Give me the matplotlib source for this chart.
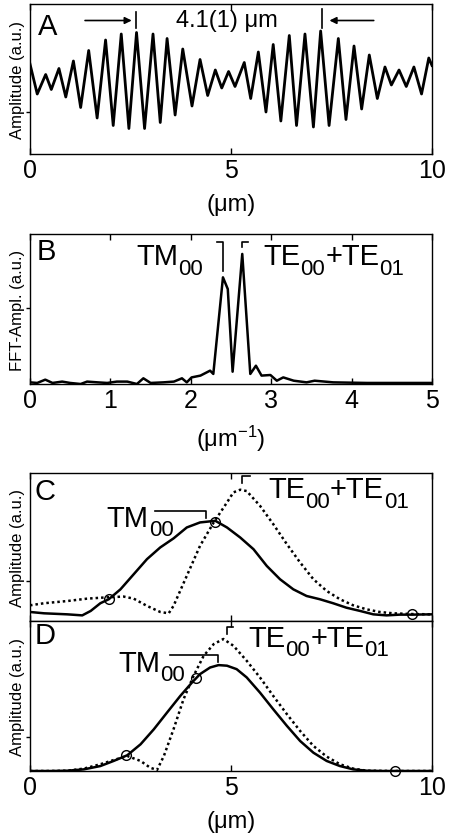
import matplotlib
matplotlib.use("Agg")
import matplotlib.pyplot as plt

plt.rcParams['font.family'] = ['Liberation Sans', 'DejaVu Sans']
plt.rcParams['mathtext.fontset'] = 'custom'
plt.rcParams['mathtext.rm'] = 'Liberation Sans'
plt.rcParams['mathtext.it'] = 'Liberation Sans:italic'
plt.rcParams['mathtext.default'] = 'regular'

# ---------------- Panel A: interference signal ----------------
a_x = [0.0, 0.18, 0.39, 0.53, 0.72, 0.89, 1.08, 1.26, 1.46, 1.67, 1.88, 2.07, 2.27, 2.46,
       2.65, 2.85, 3.06, 3.24, 3.41, 3.61, 3.80, 4.03, 4.23, 4.42, 4.61, 4.77, 4.94, 5.10,
       5.33, 5.49, 5.68, 5.87, 6.05, 6.24, 6.45, 6.63, 6.84, 7.05, 7.23, 7.44, 7.67, 7.86,
       8.06, 8.25, 8.44, 8.64, 8.83, 8.99, 9.18, 9.36, 9.55, 9.74, 9.92, 10.0]
a_y = [0.60, 0.40, 0.53, 0.43, 0.57, 0.38, 0.62, 0.31, 0.69, 0.24, 0.76, 0.19, 0.80, 0.17,
       0.81, 0.17, 0.80, 0.21, 0.77, 0.26, 0.70, 0.32, 0.63, 0.39, 0.56, 0.44, 0.55, 0.45,
       0.61, 0.37, 0.68, 0.28, 0.73, 0.22, 0.79, 0.19, 0.80, 0.18, 0.82, 0.19, 0.77, 0.23,
       0.72, 0.30, 0.66, 0.37, 0.58, 0.46, 0.56, 0.45, 0.58, 0.40, 0.64, 0.59]

# ---------------- Panel B: FFT amplitude ----------------
b_x = [0.0, 0.09, 0.19, 0.28, 0.40, 0.50, 0.63, 0.71, 0.84, 0.96, 1.08, 1.21, 1.33, 1.41,
       1.50, 1.66, 1.79, 1.89, 1.95, 2.01, 2.12, 2.24, 2.28, 2.40, 2.46, 2.52, 2.64, 2.74,
       2.81, 2.88, 2.99, 3.07, 3.15, 3.28, 3.44, 3.54, 3.77, 4.19, 4.60, 5.0]
b_y = [0.011, 0.007, 0.029, 0.007, 0.016, 0.007, 0.0, 0.016, 0.011, 0.007, 0.016, 0.016,
       0.0, 0.038, 0.007, 0.011, 0.016, 0.038, 0.011, 0.044, 0.056, 0.089, 0.067, 0.711,
       0.633, 0.082, 0.867, 0.067, 0.122, 0.056, 0.060, 0.022, 0.044, 0.022, 0.011, 0.022,
       0.011, 0.007, 0.007, 0.007]

# ---------------- Panel C: mode profiles ----------------
c_tm_x = [0.0, 0.35, 0.93, 1.30, 1.51, 1.75, 1.96, 2.25, 2.58, 2.91, 3.24, 3.57, 3.90, 4.23,
          4.61, 4.90, 5.23, 5.56, 5.89, 6.22, 6.55, 6.88, 7.21, 7.54, 7.87, 8.21, 8.54, 8.87,
          9.20, 9.50, 10.0]
c_tm_y = [0.061, 0.052, 0.045, 0.038, 0.068, 0.120, 0.147, 0.214, 0.316, 0.418, 0.497, 0.558,
          0.632, 0.666, 0.677, 0.632, 0.564, 0.485, 0.372, 0.282, 0.214, 0.169, 0.147, 0.120,
          0.090, 0.068, 0.045, 0.038, 0.043, 0.043, 0.045]
c_te_x = [0.0, 0.35, 0.93, 1.42, 1.92, 2.33, 2.58, 2.91, 3.24, 3.45, 3.57, 3.90, 4.23, 4.57,
          4.90, 5.06, 5.23, 5.39, 5.72, 6.05, 6.39, 6.72, 7.05, 7.38, 7.71, 8.04, 8.37, 8.70,
          9.03, 9.50, 10.0]
c_te_y = [0.106, 0.120, 0.135, 0.151, 0.160, 0.165, 0.151, 0.102, 0.061, 0.052, 0.102, 0.305,
          0.508, 0.666, 0.801, 0.869, 0.887, 0.878, 0.779, 0.655, 0.519, 0.395, 0.282, 0.203,
          0.147, 0.106, 0.079, 0.061, 0.052, 0.047, 0.045]
c_pts_x = [1.96, 4.61, 9.50]
c_pts_y = [0.147, 0.672, 0.047]

# ---------------- Panel D: fitted profiles ----------------
d_tm_x = [0.0, 0.51, 0.93, 1.34, 1.75, 2.08, 2.42, 2.75, 3.08, 3.41, 3.74, 4.03, 4.23, 4.48,
          4.69, 4.90, 5.14, 5.39, 5.72, 6.05, 6.39, 6.72, 7.05, 7.38, 7.71, 8.04, 8.37, 8.78,
          9.07, 10.0]
d_tm_y = [0.0, 0.0, 0.002, 0.011, 0.033, 0.067, 0.105, 0.178, 0.278, 0.390, 0.501, 0.590,
          0.646, 0.690, 0.706, 0.702, 0.679, 0.624, 0.523, 0.412, 0.301, 0.200, 0.122, 0.067,
          0.033, 0.011, 0.002, 0.0, 0.0, 0.0]
d_te_x = [0.0, 0.51, 0.93, 1.34, 1.75, 2.08, 2.42, 2.75, 2.99, 3.16, 3.33, 3.57, 3.82, 4.07,
          4.32, 4.57, 4.81, 5.06, 5.39, 5.72, 6.05, 6.39, 6.72, 7.05, 7.38, 7.71, 8.04, 8.37,
          9.07, 10.0]
d_te_y = [0.0, 0.0, 0.002, 0.016, 0.045, 0.073, 0.100, 0.067, 0.022, 0.007, 0.100, 0.278,
          0.479, 0.635, 0.768, 0.846, 0.880, 0.835, 0.735, 0.624, 0.501, 0.379, 0.267, 0.167,
          0.096, 0.045, 0.016, 0.002, 0.0, 0.0]
d_pts_x = [2.40, 4.14, 9.07]
d_pts_y = [0.105, 0.617, 0.0]

# tick labels
x_ticks_10 = [0, 5, 10]
x_ticks_5 = [0, 1, 2, 3, 4, 5]

W, H = 450, 837
fig = plt.figure(figsize=(W / 100, H / 100), dpi=100)


def axes_px(x0, y0, x1, y1):
    return fig.add_axes([x0 / W, 1 - y1 / H, (x1 - x0) / W, (y1 - y0) / H])


LW = 1.8
TICKFS = 18
LABFS = 17
PANFS = 21
MODEFS = 21
SUBFS = 16
DOT = (0, (1, 1.2))


def style(ax, xlim, xticks, ytick, ylabel, labels=True):
    ax.set_xlim(*xlim)
    ax.set_ylim(0, 1)
    ax.set_xticks(xticks)
    if not labels:
        ax.set_xticklabels([])
    ax.set_yticks([ytick])
    ax.set_yticklabels([])
    ax.tick_params(axis='x', direction='in', top=True, length=4, width=1,
                   labelsize=TICKFS, pad=3)
    ax.tick_params(axis='y', direction='out', length=3, width=1)
    for s in ax.spines.values():
        s.set_linewidth(1.0)
    ax.set_ylabel(ylabel, fontsize=12)
    ax.yaxis.set_label_coords(-0.013, 0.5)


def bracket(ax, pts):
    xs = [p[0] for p in pts]
    ys = [p[1] for p in pts]
    ax.plot(xs, ys, color='black', lw=1.2, transform=ax.transAxes, clip_on=False)


def mode_label(ax, x, y, parts):
    """parts: list of (text, is_subscript); drawn left to right on a common baseline."""
    prev = None
    for s, sub in parts:
        fs = SUBFS if sub else MODEFS
        dy = -7 if sub else 0
        if prev is None:
            prev = ax.text(x, y, s, transform=ax.transAxes, fontsize=fs,
                           ha='left', va='baseline')
        else:
            prev = ax.annotate(s, xy=(1, y), xycoords=(prev, 'axes fraction'),
                               xytext=(0, dy), textcoords='offset points',
                               fontsize=fs, ha='left', va='baseline')


TM = [('TM', False), ('00', True)]
TE = [('TE', False), ('00', True), ('+TE', False), ('01', True)]

# Panel A
axA = axes_px(30, 5, 432, 155)
axA.plot(a_x, a_y, color='black', lw=2.0, solid_joinstyle='round')
style(axA, (0, 10), x_ticks_10, 0.28, 'Amplitude (a.u.)')
axA.set_xlabel('(μm)', fontsize=LABFS, labelpad=8)
axA.text(0.02, 0.85, 'A', transform=axA.transAxes, fontsize=PANFS, va='center', ha='left')
axA.annotate('', xy=(0.260, 0.89), xytext=(0.130, 0.89), xycoords='axes fraction',
             arrowprops=dict(arrowstyle='-|>', color='black', lw=1.2, mutation_scale=10))
axA.annotate('', xy=(0.738, 0.89), xytext=(0.862, 0.89), xycoords='axes fraction',
             arrowprops=dict(arrowstyle='-|>', color='black', lw=1.2, mutation_scale=10))
bracket(axA, [(0.264, 0.95), (0.264, 0.84)])
bracket(axA, [(0.726, 0.97), (0.726, 0.84)])
axA.text(0.489, 0.89, '4.1(1) μm', transform=axA.transAxes, fontsize=17,
         ha='center', va='center')

# Panel B
axB = axes_px(30, 235, 432, 385)
axB.plot(b_x, b_y, color='black', lw=LW)
style(axB, (0, 5), x_ticks_5, 0.51, 'FFT-Ampl. (a.u.)')
axB.set_xlabel('(μm$^{-1}$)', fontsize=LABFS, labelpad=8)
axB.text(0.017, 0.889, 'B', transform=axB.transAxes, fontsize=PANFS, va='center', ha='left')
mode_label(axB, 0.265, 0.80, TM)
bracket(axB, [(0.464, 0.944), (0.479, 0.944), (0.479, 0.755)])
bracket(axB, [(0.543, 0.944), (0.527, 0.944), (0.527, 0.911)])
mode_label(axB, 0.580, 0.80, TE)

# Panel C
axC = axes_px(30, 474, 432, 622)
axC.plot(c_tm_x, c_tm_y, color='black', lw=LW)
axC.plot(c_te_x, c_te_y, color='black', lw=LW, linestyle=DOT)
axC.plot(c_pts_x, c_pts_y, linestyle='none', marker='o', ms=7, mfc='none',
         mec='black', mew=1.0)
style(axC, (0, 10), x_ticks_10, 0.27, 'Amplitude (a.u.)', labels=False)
axC.text(0.012, 0.875, 'C', transform=axC.transAxes, fontsize=PANFS, va='center', ha='left')
mode_label(axC, 0.191, 0.644, TM)
bracket(axC, [(0.311, 0.745), (0.437, 0.745), (0.437, 0.694)])
bracket(axC, [(0.547, 0.978), (0.527, 0.978), (0.527, 0.932)])
mode_label(axC, 0.592, 0.836, TE)

# Panel D
axD = axes_px(30, 622, 432, 772)
axD.plot(d_tm_x, d_tm_y, color='black', lw=LW)
axD.plot(d_te_x, d_te_y, color='black', lw=LW, linestyle=DOT)
axD.plot(d_pts_x, d_pts_y, linestyle='none', marker='o', ms=7, mfc='none',
         mec='black', mew=1.0, clip_on=False)
style(axD, (0, 10), x_ticks_10, 0.23, 'Amplitude (a.u.)')
axD.set_xlabel('(μm)', fontsize=LABFS, labelpad=8)
axD.text(0.012, 0.908, 'D', transform=axD.transAxes, fontsize=PANFS, va='center', ha='left')
mode_label(axD, 0.220, 0.669, TM)
bracket(axD, [(0.348, 0.773), (0.468, 0.773), (0.468, 0.729)])
bracket(axD, [(0.506, 0.958), (0.489, 0.958), (0.489, 0.913)])
mode_label(axD, 0.543, 0.835, TE)

fig.savefig('out.png', dpi=100)
